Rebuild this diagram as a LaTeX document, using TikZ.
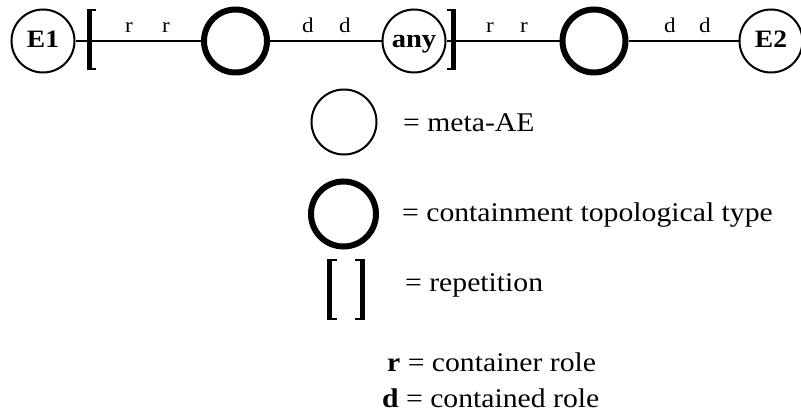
\documentclass[tikz,border=0pt]{standalone}
\usepackage{fontspec}
\setmainfont{Liberation Serif}[FakeStretch=1.1]
\begin{document}
\begin{tikzpicture}[x=1pt,y=-1pt,
  conn/.style={line width=2pt},
  ae/.style={circle,draw,line width=2pt,minimum size=63pt,inner sep=0pt},
  topo/.style={circle,draw,line width=6pt,minimum size=63pt,inner sep=0pt},
  entname/.style={anchor=base,inner sep=0pt,font=\fontsize{25}{28}\selectfont\bfseries},
  role/.style={anchor=base,inner sep=0pt,font=\fontsize{21}{24}\selectfont},
  legtext/.style={anchor=base west,inner sep=0pt,font=\fontsize{27}{30}\selectfont},
  bar/.style={line width=5pt},
  tick/.style={line width=2pt}
]
\useasboundingbox (0,0) rectangle (801,419);

% main chain
\node[ae]   (e1)  at (43,41)  {};
\node[topo] (t1)  at (235.5,41) {};
\node[ae]   (any) at (414,41) {};
\node[topo] (t2)  at (594,41) {};
\node[ae]   (e2)  at (771,41) {};

\node[entname] (e1t)  at (43,48)  {E1};
\node[entname,font=\fontsize{26}{28}\selectfont\bfseries] (anyt) at (414,48) {any};
\node[entname] (e2t)  at (771,48) {E2};

\draw[conn] (e1) -- (t1);
\draw[conn] (t1) -- (any);
\draw[conn] (any) -- (t2);
\draw[conn] (t2) -- (e2);

% repetition brackets on the chain
\draw[bar] (89.5,9.5) -- (89.5,70.5);
\draw[tick] (89.5,10.5) -- (96,10.5) (89.5,69.5) -- (96,69.5);
\draw[bar] (453,9.5) -- (453,70.5);
\draw[tick] (453,10.5) -- (446.5,10.5) (453,69.5) -- (446.5,69.5);

% role labels
\node[role] (r1) at (129,33) {r};
\node[role] (r2) at (166,33) {r};
\node[role] (d1) at (308,33) {d};
\node[role] (d2) at (345,33) {d};
\node[role] (r3) at (490,33) {r};
\node[role] (r4) at (524,33) {r};
\node[role] (d3) at (670,33) {d};
\node[role] (d4) at (705,33) {d};

% legend
\node[ae,minimum size=65pt]   (lae)   at (344,122) {};
\node[topo,minimum size=65pt] (ltopo) at (343.5,214) {};
\draw[bar] (329.5,259) -- (329.5,320);
\draw[tick] (329.5,260) -- (337,260) (329.5,319) -- (337,319);
\draw[bar] (362,259) -- (362,320);
\draw[tick] (362,260) -- (354.5,260) (362,319) -- (354.5,319);

\node[legtext] (lt1) at (403,132) {= meta-AE};
\node[legtext] (lt2) at (402,222) {= containment topological type};
\node[legtext] (lt3) at (405,292) {= repetition};
\node[legtext] (lt4) at (387,372) {\textbf{r} = container role};
\node[legtext] (lt5) at (382,408) {\textbf{d} = contained role};
\end{tikzpicture}
\end{document}
